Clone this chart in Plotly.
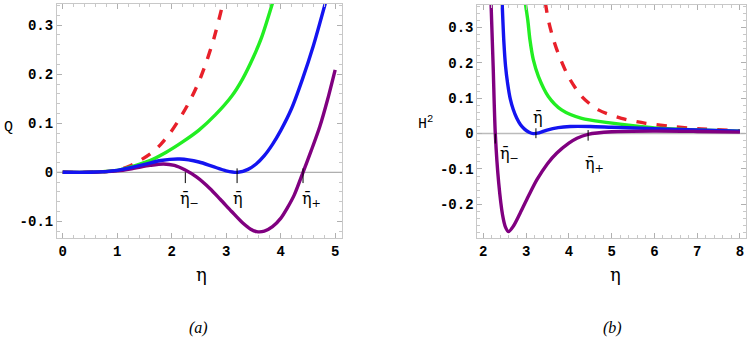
import plotly.graph_objects as go

# ---- data ----
# panel (a): Q(eta)
q_red_x = [0, 0.5, 1.0, 1.25, 1.6, 1.8, 1.97, 2.15, 2.34, 2.5, 2.64, 2.78, 2.92]
q_red_y = [0, 0.0, 0.004, 0.014, 0.037, 0.057, 0.08, 0.11, 0.147, 0.185, 0.226, 0.275, 0.335]
q_green_x = [0, 0.5, 1.0, 1.25, 1.6, 1.9, 2.2, 2.5, 2.8, 3.1, 3.3, 3.5, 3.65, 3.85]
q_green_y = [0, 0.0, 0.004, 0.011, 0.024, 0.041, 0.062, 0.086, 0.117, 0.155, 0.19, 0.235, 0.275, 0.345]
q_blue_x = [0, 0.5, 1.0, 1.5, 1.8, 2.15, 2.5, 2.75, 3.0, 3.22, 3.4, 3.55, 3.7, 3.85, 4.0, 4.2, 4.4, 4.6, 4.82]
q_blue_y = [0, 0.0, 0.004, 0.016, 0.024, 0.027, 0.021, 0.012, 0.003, 0.0, 0.006, 0.017, 0.034, 0.057, 0.085, 0.13, 0.19, 0.258, 0.345]
q_purple_x = [0, 0.5, 1.0, 1.3, 1.6, 1.85, 2.05, 2.24, 2.46, 2.7, 2.89, 3.1, 3.3, 3.45, 3.56, 3.7, 3.85,
              4.0, 4.12, 4.25, 4.41, 4.56, 4.72, 4.86, 5.0]
q_purple_y = [0, 0.0, 0.003, 0.008, 0.014, 0.017, 0.014, 0.005, -0.01, -0.033, -0.055, -0.08, -0.103, -0.116,
              -0.121, -0.12, -0.111, -0.094, -0.073, -0.046, 0.0, 0.044, 0.094, 0.148, 0.209]

# panel (b): H^2(eta)
h_red_x = [3.45, 3.52, 3.63, 3.75, 3.99, 4.3, 4.69, 5.23, 5.8, 6.5, 7.0, 8.0]
h_red_y = [0.37, 0.321, 0.27, 0.227, 0.161, 0.105, 0.067, 0.043, 0.029, 0.019, 0.014, 0.008]
h_green_x = [2.98, 3.04, 3.09, 3.17, 3.29, 3.52, 3.83, 4.3, 4.92, 5.5, 6.0, 7.0, 8.0]
h_green_y = [0.37, 0.32, 0.265, 0.208, 0.161, 0.105, 0.067, 0.043, 0.031, 0.022, 0.016, 0.01, 0.007]
h_blue_x = [2.44, 2.48, 2.52, 2.57, 2.63, 2.7, 2.78, 2.87, 2.97, 3.07, 3.17, 3.3, 3.49, 3.75, 4.03, 4.5, 5.0, 6.0, 7.0, 8.0]
h_blue_y = [0.37, 0.26, 0.19, 0.14, 0.098, 0.068, 0.044, 0.025, 0.012, 0.004, 0.0, 0.002, 0.01, 0.017, 0.02, 0.02, 0.018, 0.014, 0.01, 0.007]
h_purple_x = [2.18, 2.23, 2.28, 2.36, 2.45, 2.52, 2.59, 2.7, 2.86, 3.05, 3.25, 3.5, 3.72, 4.0, 4.19, 4.45, 5.0, 6.0, 7.0, 8.0]
h_purple_y = [0.37, 0.19, 0.0, -0.14, -0.23, -0.265, -0.277, -0.262, -0.225, -0.178, -0.131, -0.085, -0.055, -0.027, -0.013, -0.002, 0.005, 0.007, 0.006, 0.004]

# marked roots
a_marks = [2.25, 3.2, 4.41]
b_marks = [2.28, 3.23, 4.45]

a_xticks = [0, 1, 2, 3, 4, 5]
a_yticks = [-0.1, 0, 0.1, 0.2, 0.3]
b_xticks = [2, 3, 4, 5, 6, 7, 8]
b_yticks = [-0.2, -0.1, 0, 0.1, 0.2, 0.3]

RED, GREEN, BLUE, PURPLE = "#e8202a", "#22ee22", "#1414f0", "#800080"
MONO = "Liberation Mono, Courier New, monospace"
TICKFONT = dict(family=MONO, size=14, color="black", weight="bold")
SERIF = "DejaVu Serif"

fig = go.Figure()


def curve(x, y, color, xa, ya, dash="solid"):
    fig.add_trace(go.Scatter(x=x, y=y, mode="lines", xaxis=xa, yaxis=ya,
                             line=dict(color=color, width=3.4, dash=dash, shape="spline", smoothing=0.8),
                             showlegend=False, hoverinfo="skip"))


# zero lines first so curves sit on top
fig.add_trace(go.Scatter(x=[-0.2, 5.3], y=[0, 0], mode="lines", xaxis="x", yaxis="y",
                         line=dict(color="#999999", width=1), showlegend=False, hoverinfo="skip"))
fig.add_trace(go.Scatter(x=[1.7, 8.3], y=[0, 0], mode="lines", xaxis="x2", yaxis="y2",
                         line=dict(color="#bbbbbb", width=1.5), showlegend=False, hoverinfo="skip"))

curve(q_red_x, q_red_y, RED, "x", "y", "dash")
curve(q_green_x, q_green_y, GREEN, "x", "y")
curve(q_purple_x, q_purple_y, PURPLE, "x", "y")
curve(q_blue_x, q_blue_y, BLUE, "x", "y")

curve(h_red_x, h_red_y, RED, "x2", "y2", "dash")
curve(h_green_x, h_green_y, GREEN, "x2", "y2")
curve(h_blue_x, h_blue_y, BLUE, "x2", "y2")
curve(h_purple_x, h_purple_y, PURPLE, "x2", "y2")

axis_common = dict(showgrid=False, zeroline=False, showline=True, linecolor="#c8c8c8", linewidth=1,
                   mirror="ticks", ticks="inside", ticklen=5, tickcolor="#b0b0b0", tickwidth=1,
                   tickfont=TICKFONT)
minor_x = dict(ticks="inside", dtick=0.2, ticklen=3, tickcolor="#c8c8c8")
minor_y = dict(ticks="inside", dtick=0.02, ticklen=3, tickcolor="#c8c8c8")


def fmt(v):
    return "0" if v == 0 else f"{v:g}"


fig.update_layout(
    width=747, height=340, margin=dict(l=0, r=0, t=0, b=0),
    paper_bgcolor="white", plot_bgcolor="white",
    xaxis=dict(domain=[0.0763, 0.4578], range=[-0.105, 5.125], tickvals=a_xticks, anchor="y",
               minor=minor_x, **axis_common),
    yaxis=dict(domain=[0.30, 0.988], range=[-0.134, 0.343], tickvals=a_yticks,
               ticktext=[fmt(v) for v in a_yticks], anchor="x", minor=minor_y, **axis_common),
    xaxis2=dict(domain=[0.639, 0.998], range=[1.86, 8.13], tickvals=b_xticks, anchor="y2",
                minor=minor_x, ticklabeloverflow="allow", **axis_common),
    yaxis2=dict(domain=[0.30, 0.986], range=[-0.295, 0.364], tickvals=b_yticks,
                ticktext=[fmt(v) for v in b_yticks], anchor="x2", minor=minor_y, **axis_common),
)

# root markers (short vertical ticks)
tick_line = dict(color="black", width=1)
fig.add_shape(type="line", xref="x", yref="y", x0=a_marks[0], x1=a_marks[0], y0=0.0, y1=-0.022, line=tick_line)
fig.add_shape(type="line", xref="x", yref="y", x0=a_marks[1], x1=a_marks[1], y0=0.008, y1=-0.022, line=tick_line)
fig.add_shape(type="line", xref="x", yref="y", x0=a_marks[2], x1=a_marks[2], y0=0.008, y1=-0.022, line=tick_line)
fig.add_shape(type="line", xref="x2", yref="y2", x0=b_marks[0], x1=b_marks[0], y0=0.0, y1=-0.028, line=tick_line)
fig.add_shape(type="line", xref="x2", yref="y2", x0=b_marks[1], x1=b_marks[1], y0=0.015, y1=-0.013, line=tick_line)
fig.add_shape(type="line", xref="x2", yref="y2", x0=b_marks[2], x1=b_marks[2], y0=0.01, y1=-0.02, line=tick_line)

lab = dict(showarrow=False, font=dict(family=SERIF, size=16, color="black"))
fig.add_annotation(x=a_marks[0] + 0.07, y=-0.056, xref="x", yref="y", text="η̄<sub>−</sub>", **lab)
fig.add_annotation(x=a_marks[1] + 0.02, y=-0.053, xref="x", yref="y", text="η̄", **lab)
fig.add_annotation(x=a_marks[2] + 0.15, y=-0.056, xref="x", yref="y", text="η̄<sub>+</sub>", **lab)
fig.add_annotation(x=2.62, y=-0.06, xref="x2", yref="y2", text="η̄<sub>−</sub>", **lab)
fig.add_annotation(x=3.29, y=0.045, xref="x2", yref="y2", text="η̄", **lab)
fig.add_annotation(x=4.6, y=-0.088, xref="x2", yref="y2", text="η̄<sub>+</sub>", **lab)


def paper_text(px, py, text, font):
    fig.add_annotation(x=px / 747, y=1 - py / 340, xref="paper", yref="paper", text=text,
                       xanchor="center", yanchor="middle", font=font, showarrow=False)


# axis titles and panel captions
paper_text(8, 127, "Q", dict(family=MONO, size=15, color="black"))
paper_text(425, 123, "H<sup>2</sup>", dict(family=MONO, size=15, color="black"))
paper_text(202, 274, "η", dict(family=SERIF, size=18, color="black"))
paper_text(615, 274, "η", dict(family=SERIF, size=18, color="black"))
paper_text(198, 328, "<i>(a)</i>", dict(family="Liberation Serif", size=16, color="black"))
paper_text(612, 328, "<i>(b)</i>", dict(family="Liberation Serif", size=16, color="black"))

# the page's default body margin would shift the figure by 8px
fig.write_html("out.html", config={"displayModeBar": False},
               post_script="document.body.style.margin='0';")
